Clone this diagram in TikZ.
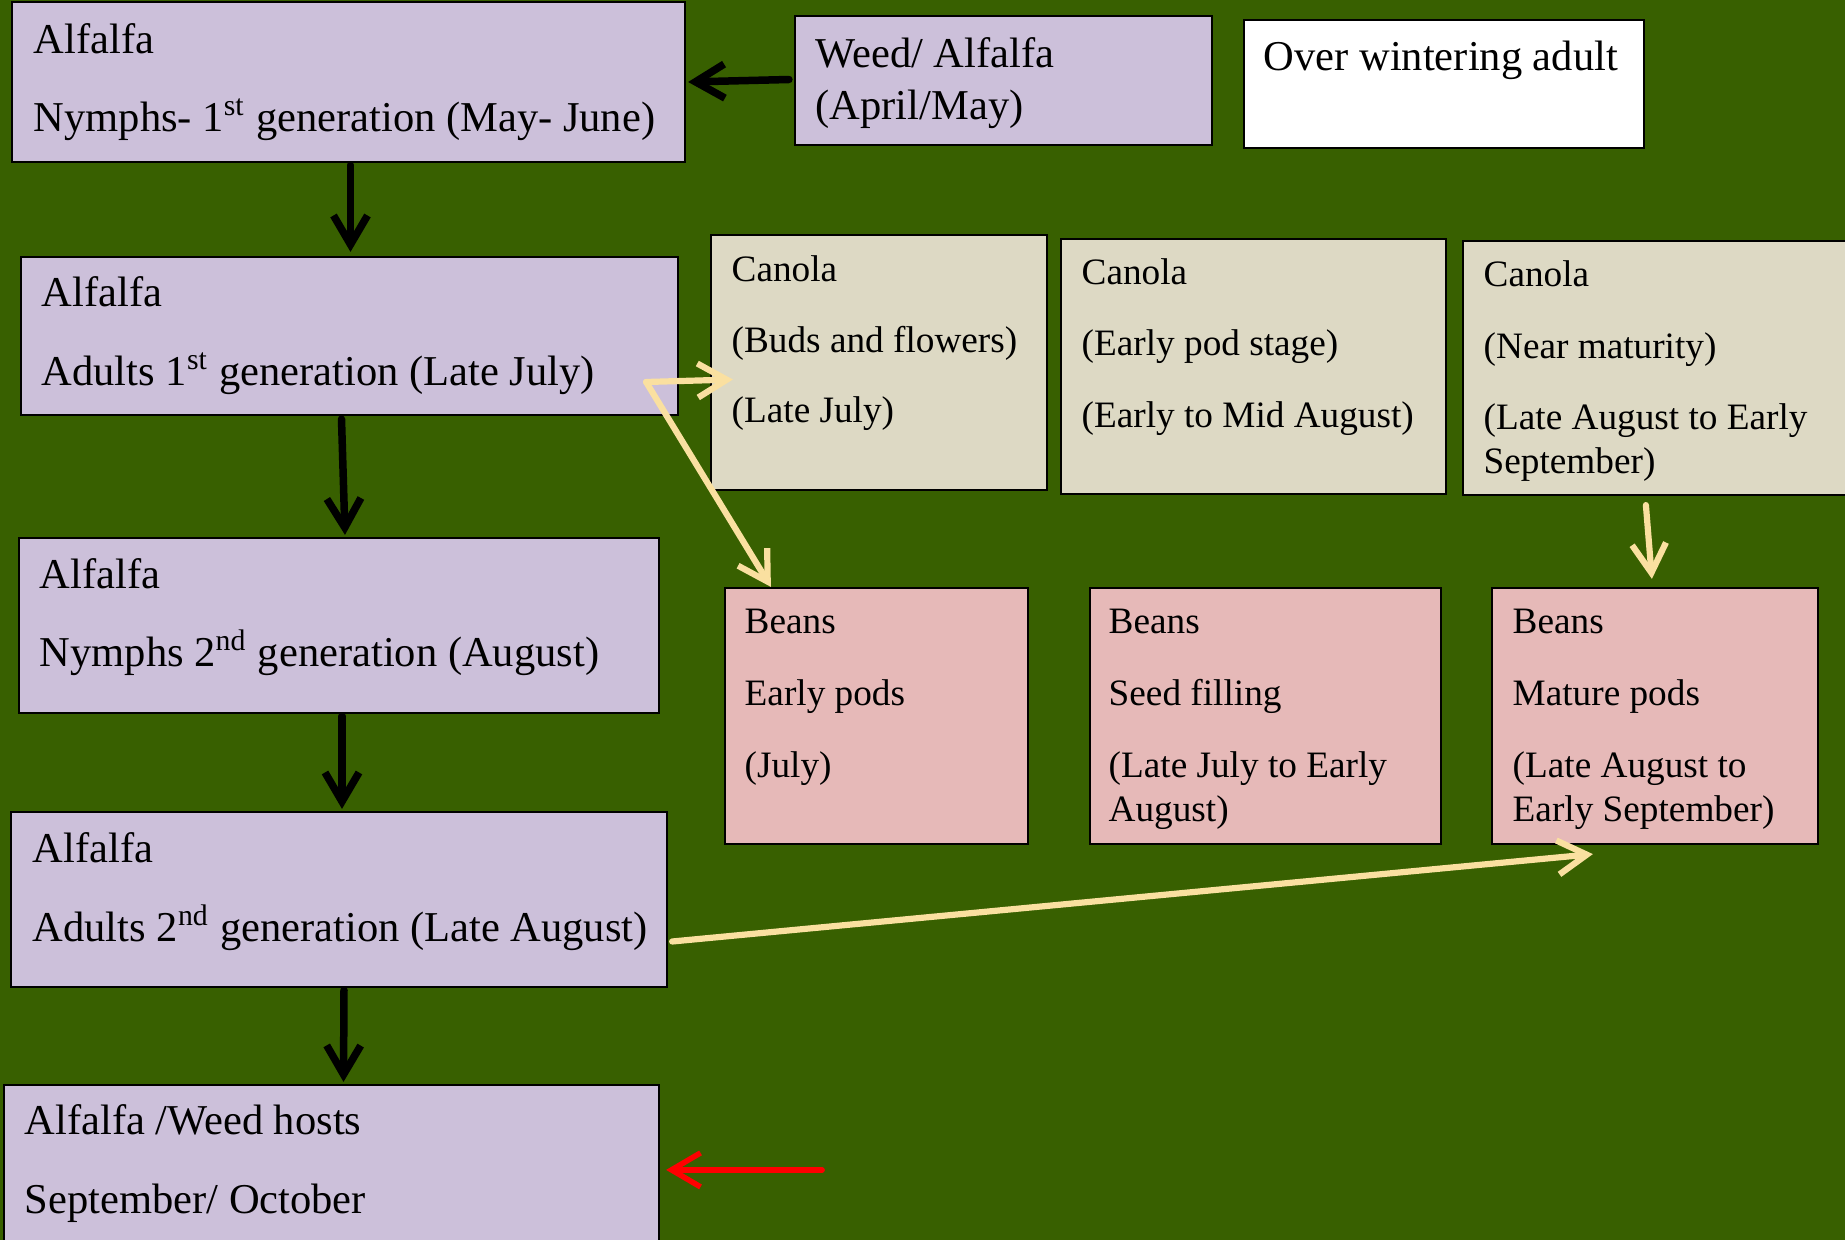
\documentclass[tikz,border=0pt]{standalone}
\usepackage{fontspec}
\setmainfont{Liberation Serif}
\usetikzlibrary{arrows.meta,fit,calc}
\definecolor{bg}{RGB}{56,96,0}
\definecolor{lav}{RGB}{204,192,218}
\definecolor{tanb}{RGB}{221,217,196}
\definecolor{pinkb}{RGB}{230,185,184}
\definecolor{goldar}{RGB}{250,224,160}
\begin{document}
\begin{tikzpicture}[x=0.1mm,y=-0.1mm,
  boxbase/.style={draw=black, line width=0.22mm, inner sep=0pt},
  lavbox/.style={boxbase, fill=lav},
  tanbox/.style={boxbase, fill=tanb},
  pinkbox/.style={boxbase, fill=pinkb},
  whitebox/.style={boxbase, fill=white},
  bigtxt/.style={anchor=base west, inner sep=0pt, font=\fontsize{12.1}{14}\selectfont},
  smalltxt/.style={anchor=base west, inner sep=0pt, font=\fontsize{10.6}{13}\selectfont},
  blkarrow/.style={draw=black, line width=0.75mm, line cap=round, -{Straight Barb[length=2.9mm,width=3.4mm]}},
  goldarrow/.style={draw=goldar, line width=0.62mm, line cap=round, line join=round, -{Straight Barb[length=2.9mm,width=3.4mm]}},
  redarrow/.style={draw=red, line width=0.55mm, line cap=round, -{Straight Barb[length=2.9mm,width=3.4mm]}}
]
\useasboundingbox (0,0) rectangle (1845,1240);
\clip (0,0) rectangle (1845,1240);
\fill[bg] (0,0) rectangle (1845,1240);

% left column
\node[lavbox, fit={(12,2)(685,162)}] (b1) {};
\node[lavbox, fit={(21,257)(678,415)}] (b2) {};
\node[lavbox, fit={(19,538)(659,713)}] (b3) {};
\node[lavbox, fit={(11,812)(667,987)}] (b4) {};
\node[lavbox, fit={(4,1085)(659,1260)}] (b5) {};

% top row
\node[lavbox, fit={(795,16)(1212,145)}] (weed) {};
\node[whitebox, fit={(1244,20)(1644,148)}] (over) {};

% canola
\node[tanbox, fit={(711,235)(1047,490)}] (c1) {};
\node[tanbox, fit={(1061,239)(1446,494)}] (c2) {};
\node[tanbox, fit={(1463,241)(1870,495)}] (c3) {};

% beans
\node[pinkbox, fit={(725,588)(1028,844)}] (be1) {};
\node[pinkbox, fit={(1090,588)(1441,844)}] (be2) {};
\node[pinkbox, fit={(1492,588)(1818,844)}] (be3) {};

% texts
\node[bigtxt] (t1a) at (33,54) {Alfalfa};
\node[bigtxt] (t1b) at (33,131) {Nymphs- 1\textsuperscript{st} generation (May- June)};
\node[bigtxt] (tw1) at (815,67) {Weed/ Alfalfa};
\node[bigtxt] (tw2) at (815,119) {(April/May)};
\node[bigtxt] (to1) at (1263,71) {Over wintering adult};
\node[bigtxt] (t2a) at (41,306) {Alfalfa};
\node[bigtxt] (t2b) at (41,385) {Adults 1\textsuperscript{st} generation (Late July)};
\node[bigtxt] (t3a) at (39,588) {Alfalfa};
\node[bigtxt] (t3b) at (39,666) {Nymphs 2\textsuperscript{nd} generation (August)};
\node[bigtxt] (t4a) at (32,862) {Alfalfa};
\node[bigtxt] (t4b) at (32,941) {Adults 2\textsuperscript{nd} generation (Late August)};
\node[bigtxt] (t5a) at (24,1134) {Alfalfa /Weed hosts};
\node[bigtxt] (t5b) at (24,1213) {September/ October};

\node[smalltxt] (tc1a) at (731,281) {Canola};
\node[smalltxt] (tc1b) at (731,352) {(Buds and flowers)};
\node[smalltxt] (tc1c) at (731,422) {(Late July)};
\node[smalltxt] (tc2a) at (1081,284) {Canola};
\node[smalltxt] (tc2b) at (1081,355) {(Early pod stage)};
\node[smalltxt] (tc2c) at (1081,427) {(Early to Mid August)};
\node[smalltxt] (tc3a) at (1483,286) {Canola};
\node[smalltxt] (tc3b) at (1483,358) {(Near maturity)};
\node[smalltxt] (tc3c) at (1483,429) {(Late August to Early};
\node[smalltxt] (tc3d) at (1483,473) {September)};

\node[smalltxt] (tb1a) at (744,633) {Beans};
\node[smalltxt] (tb1b) at (744,705) {Early pods};
\node[smalltxt] (tb1c) at (744,777) {(July)};
\node[smalltxt] (tb2a) at (1108,633) {Beans};
\node[smalltxt] (tb2b) at (1108,705) {Seed filling};
\node[smalltxt] (tb2c) at (1108,777) {(Late July to Early};
\node[smalltxt] (tb2d) at (1108,821) {August)};
\node[smalltxt] (tb3a) at (1512,633) {Beans};
\node[smalltxt] (tb3b) at (1512,705) {Mature pods};
\node[smalltxt] (tb3c) at (1512,777) {(Late August to};
\node[smalltxt] (tb3d) at (1512,821) {Early September)};

% black arrows
\draw[blkarrow] ($(weed.west)+(-5,-1)$) -- ($(b1.east)+(2,0)$);
\draw[blkarrow] ($(b1.south)+(2,2)$) -- ($(b2.north)+(1,-4)$);
\draw[blkarrow] ($(b2.south)+(-8,3)$) -- ($(b3.north)+(6,-2)$);
\draw[blkarrow] ($(b3.south)+(3,2)$) -- ($(b4.north)+(3,-2)$);
\draw[blkarrow] ($(b4.south)+(5,2)$) -- ($(b5.north)+(12,-2)$);

% gold arrows
\coordinate (ys) at ($(b2.east)+(-33,46)$);
\draw[goldarrow] (ys) -- ($(c1.west)+(23,17)$);
\draw[goldarrow] (ys) -- ($(be1.north west)+(47,0)$);
\draw[goldarrow] ($(c3.south west)+(184,9)$) -- ($(be3.north west)+(161,-8)$);
\draw[goldarrow] ($(b4.east)+(4,42)$) -- ($(be3.south west)+(102,9)$);

% red arrow
\coordinate (rs) at ($(b5.north east)+(162,86)$);
\draw[redarrow] (rs) -- ($(b5.north east)+(6,86)$);
\end{tikzpicture}
\end{document}
